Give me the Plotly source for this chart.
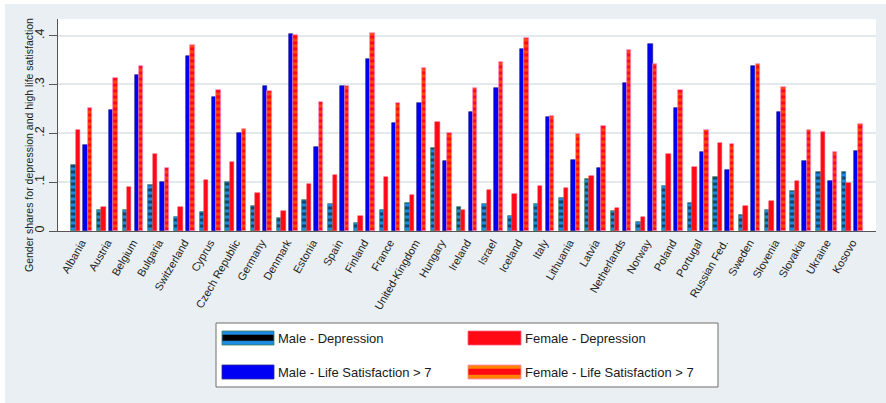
import plotly.graph_objects as go

countries = ["Albania", "Austria", "Belgium", "Bulgaria", "Switzerland", "Cyprus",
             "Czech Republic", "Germany", "Denmark", "Estonia", "Spain", "Finland",
             "France", "United-Kingdom", "Hungary", "Ireland", "Israel", "Iceland",
             "Italy", "Lithuania", "Latvia", "Netherlands", "Norway", "Poland",
             "Portugal", "Russian Fed.", "Sweden", "Slovenia", "Slovakia", "Ukraine",
             "Kosovo"]

male_dep = [0.135, 0.042, 0.042, 0.095, 0.029, 0.038, 0.101, 0.051, 0.027, 0.064,
            0.055, 0.016, 0.043, 0.058, 0.170, 0.049, 0.055, 0.031, 0.055, 0.067,
            0.106, 0.040, 0.019, 0.092, 0.058, 0.110, 0.033, 0.042, 0.082, 0.120,
            0.121]
female_dep = [0.206, 0.049, 0.090, 0.158, 0.050, 0.104, 0.142, 0.077, 0.040, 0.097,
              0.115, 0.031, 0.111, 0.073, 0.224, 0.042, 0.083, 0.075, 0.092, 0.088,
              0.112, 0.048, 0.029, 0.157, 0.131, 0.181, 0.051, 0.062, 0.103, 0.202,
              0.098]
male_ls = [0.177, 0.248, 0.319, 0.100, 0.359, 0.275, 0.200, 0.296, 0.403, 0.172,
           0.296, 0.352, 0.222, 0.262, 0.144, 0.243, 0.293, 0.373, 0.233, 0.146,
           0.129, 0.304, 0.382, 0.252, 0.161, 0.124, 0.337, 0.244, 0.143, 0.103,
           0.164]
female_ls = [0.252, 0.313, 0.337, 0.128, 0.380, 0.289, 0.208, 0.287, 0.401, 0.264,
             0.296, 0.406, 0.263, 0.334, 0.200, 0.292, 0.346, 0.396, 0.236, 0.199,
             0.214, 0.371, 0.341, 0.288, 0.207, 0.179, 0.341, 0.294, 0.207, 0.161,
             0.219]

y_ticks = [0, 0.1, 0.2, 0.3, 0.4]
y_ticklabels = ["0", ".1", ".2", ".3", ".4"]

series_names = ["Male - Depression", "Female - Depression",
                "Male - Life Satisfaction > 7", "Female - Life Satisfaction > 7"]

W, H = 886, 403
ML, MR, MT, MB = 58, 10, 19, 172
PW, PH = W - ML - MR, H - MT - MB

def px2x(px):
    return (px - ML) / PW

def py2y(py):
    return (H - MB - py) / PH

BLUE_LIGHT = "#1c8ce3"
BLUE = "#0000f5"
RED = "#ff0a14"
ORANGE = "#ff8200"
BG = "#e9eff2"
FONT = "Liberation Sans, Arial, sans-serif"

bw = 0.171
fig = go.Figure()
fig.add_trace(go.Bar(
    x=countries, y=male_dep, name=series_names[0], width=bw, offset=-0.403,
    marker=dict(color=BLUE_LIGHT, line=dict(color="#3b7d5a", width=0.7),
                pattern=dict(shape="-", fgcolor="black", bgcolor=BLUE_LIGHT,
                             size=6, solidity=0.5, fillmode="overlay")),
    showlegend=False))
fig.add_trace(go.Bar(
    x=countries, y=female_dep, name=series_names[1], width=bw, offset=-0.232,
    marker=dict(color=RED, line=dict(color="#ff3050", width=0.5)),
    showlegend=False))
fig.add_trace(go.Bar(
    x=countries, y=male_ls, name=series_names[2], width=bw, offset=0.064,
    marker=dict(color=BLUE, line=dict(color="#101080", width=0.6)),
    showlegend=False))
fig.add_trace(go.Bar(
    x=countries, y=female_ls, name=series_names[3], width=bw, offset=0.236,
    marker=dict(color=RED, line=dict(color="#ff88c8", width=0.7),
                pattern=dict(shape="-", fgcolor=ORANGE, bgcolor=RED,
                             size=6, solidity=0.5, fillmode="overlay")),
    showlegend=False))

shapes = []
# white frame strips at top and left of the grey page
shapes.append(dict(type="rect", xref="paper", yref="paper", layer="below",
                   x0=px2x(0), x1=px2x(W), y0=py2y(0), y1=py2y(4),
                   fillcolor="white", line=dict(width=0)))
shapes.append(dict(type="rect", xref="paper", yref="paper", layer="below",
                   x0=px2x(0), x1=px2x(5), y0=py2y(0), y1=py2y(H),
                   fillcolor="white", line=dict(width=0)))

# custom legend box
shapes.append(dict(type="rect", xref="paper", yref="paper",
                   x0=px2x(216), x1=px2x(718), y0=py2y(323), y1=py2y(387),
                   fillcolor="white", line=dict(color="#6e6e6e", width=1)))

def stripe_swatch(x0, y0, x1, y1, outer, inner, border):
    out = []
    h = y1 - y0
    out.append(dict(type="rect", xref="paper", yref="paper",
                    x0=px2x(x0), x1=px2x(x1), y0=py2y(y0), y1=py2y(y1),
                    fillcolor=outer, line=dict(color=border, width=0.8)))
    out.append(dict(type="rect", xref="paper", yref="paper",
                    x0=px2x(x0 + 0.5), x1=px2x(x1 - 0.5),
                    y0=py2y(y0 + h * 0.26), y1=py2y(y0 + h * 0.7),
                    fillcolor=inner, line=dict(width=0)))
    return out

def solid_swatch(x0, y0, x1, y1, color, border):
    return [dict(type="rect", xref="paper", yref="paper",
                 x0=px2x(x0), x1=px2x(x1), y0=py2y(y0), y1=py2y(y1),
                 fillcolor=color, line=dict(color=border, width=0.8))]

c1x0, c1x1 = 222, 274
c2x0, c2x1 = 468, 521
r1y0, r1y1 = 331, 345
r2y0, r2y1 = 365, 379
shapes += stripe_swatch(c1x0, r1y0, c1x1, r1y1, BLUE_LIGHT, "black", "#3b7d5a")
shapes += solid_swatch(c2x0, r1y0, c2x1, r1y1, RED, "#ff6080")
shapes += solid_swatch(c1x0, r2y0, c1x1, r2y1, BLUE, "#2a2a90")
shapes += stripe_swatch(c2x0, r2y0, c2x1, r2y1, ORANGE, RED, "#ff88c8")

annotations = []
legend_pos = [(c1x1 + 1.5, (r1y0 + r1y1) / 2), (c2x1 + 1.5, (r1y0 + r1y1) / 2),
              (c1x1 + 1.5, (r2y0 + r2y1) / 2), (c2x1 + 1.5, (r2y0 + r2y1) / 2)]
for name, (lx, ly) in zip(series_names, legend_pos):
    annotations.append(dict(xref="paper", yref="paper", x=px2x(lx), y=py2y(ly),
                            text=name, showarrow=False, xanchor="left",
                            yanchor="middle",
                            font=dict(family=FONT, size=13, color="#1a1a1a")))

# y-axis title
annotations.append(dict(xref="paper", yref="paper", x=px2x(29), y=py2y(145),
                        text="Gender shares for depression and high life satisfaction",
                        textangle=-90, showarrow=False, xanchor="center",
                        yanchor="middle",
                        font=dict(family=FONT, size=10.5, color="#222")))

fig.update_layout(
    width=W, height=H, autosize=False,
    margin=dict(l=ML, r=MR, t=MT, b=MB, pad=0),
    paper_bgcolor=BG, plot_bgcolor="white",
    barmode="overlay", bargap=0,
    font=dict(family=FONT, color="#222"),
    shapes=shapes, annotations=annotations,
    showlegend=False,
)
fig.update_xaxes(
    type="category", categoryorder="array", categoryarray=countries,
    range=[-0.92, len(countries) - 1 + 0.927],
    tickangle=-60, tickfont=dict(family=FONT, size=11, color="#222"),
    showline=True, linecolor="#555", linewidth=1, ticks="", showgrid=False,
    zeroline=False, automargin=False,
)
fig.update_yaxes(
    range=[0, 0.434], tickvals=y_ticks, ticktext=y_ticklabels,
    tickangle=-90, tickfont=dict(family=FONT, size=12.5, color="#222"),
    ticks="outside", ticklen=8, tickcolor="#555",
    showline=True, linecolor="#555", linewidth=1,
    showgrid=True, gridcolor="#e3eaee", gridwidth=1.5, zeroline=False,
    automargin=False,
)

fig.write_html("out.html", config={"displayModeBar": False},
               post_script="document.body.style.margin='0';document.body.style.overflow='hidden';")
